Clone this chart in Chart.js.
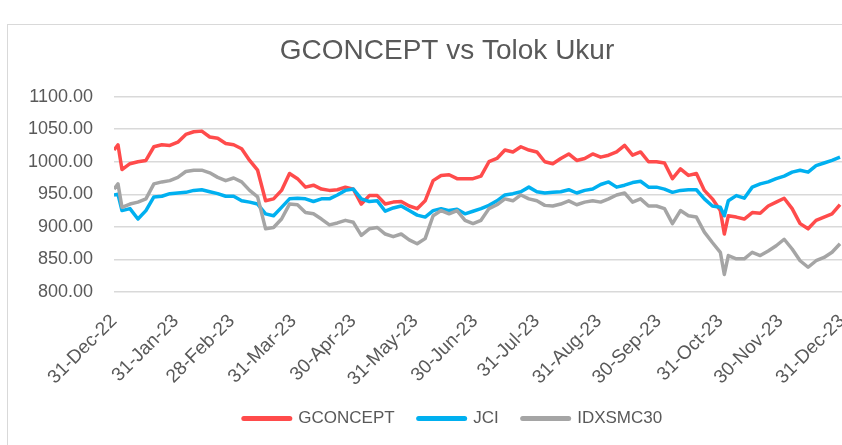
<!DOCTYPE html>
<html>
<head>
<meta charset="utf-8">
<script src="https://cdn.jsdelivr.net/npm/chart.js@4"></script>
<style>
html, body { margin: 0; padding: 0; background: #fff; overflow: hidden; }
#frame { position: absolute; left: 7px; top: 24px; width: 900px; height: 500px; border: 1px solid #d9d9d9; }
#wrap { position: absolute; left: 0; top: 0; width: 842px; height: 445px; }
</style>
</head>
<body>
<div id="frame"></div>
<div id="wrap"><canvas id="perfChart" width="842" height="445"></canvas></div>
<script>
// days counted from 31-Dec-22
const days = [0, 2, 4, 8, 12, 16, 20, 24, 28, 32, 36, 40, 44, 48, 52, 56, 60, 64, 68, 72, 76, 80, 84, 88, 92,
    96, 100, 104, 108, 112, 116, 120, 124, 128, 132, 136, 140, 144, 148, 152, 156, 160, 164, 168, 172, 176, 180, 184,
    188, 192, 196, 200, 204, 208, 212, 216, 220, 224, 228, 232, 236, 240, 244, 248, 252, 256, 260, 264, 268, 272, 276,
    280, 284, 288, 292, 296, 300, 304, 306, 308, 312, 316, 320, 324, 328, 332, 336, 340, 344, 348, 352, 356, 360, 364];

const gconcept = [1018, 1026, 988, 997, 1000, 1002, 1023, 1026, 1025, 1030, 1042, 1046, 1047, 1038, 1036, 1028, 1026, 1020, 1002, 987, 940, 943, 956, 982, 974,
    961, 964, 958, 956, 957, 961, 958, 935, 948, 948, 935, 938, 939, 932, 928, 940, 971, 979, 980, 974, 974, 974, 978,
    1000, 1005, 1018, 1015, 1023, 1018, 1015, 1000, 997, 1005, 1012, 1002, 1005, 1012, 1007, 1010, 1015, 1025, 1010, 1015, 1000, 1000, 998,
    974, 989, 979, 982, 956, 943, 925, 889, 917, 915, 912, 922, 921, 932, 938, 944, 928, 905, 897, 910, 915, 920, 934];

const jci = [949, 950, 925, 928, 912, 925, 946, 947, 951, 952, 953, 956, 957, 954, 951, 947, 947, 940, 938, 935, 920, 917, 930, 943, 944,
    943, 939, 943, 943, 949, 956, 958, 943, 939, 940, 924, 929, 932, 925, 918, 915, 925, 928, 925, 927, 920, 924, 928,
    933, 940, 949, 951, 954, 961, 954, 952, 953, 954, 957, 952, 956, 958, 965, 969, 961, 964, 968, 970, 961, 961, 958,
    953, 956, 957, 957, 943, 932, 930, 917, 940, 948, 944, 961, 966, 969, 974, 978, 984, 987, 984, 994, 998, 1002, 1007];

const idxsmc30 = [958, 966, 930, 935, 938, 943, 966, 969, 971, 976, 985, 987, 987, 983, 976, 971, 975, 969, 956, 946, 897, 899, 912, 935, 934,
    922, 920, 912, 903, 906, 910, 907, 887, 897, 899, 889, 885, 889, 880, 874, 882, 917, 925, 920, 925, 910, 905, 910,
    928, 934, 943, 940, 949, 943, 940, 933, 932, 935, 940, 934, 938, 940, 938, 943, 949, 952, 938, 943, 932, 932, 928,
    905, 925, 917, 915, 892, 876, 861, 827, 856, 851, 851, 861, 856, 863, 871, 881, 866, 848, 838, 848, 853, 861, 874];

const tickDays = [0, 31, 59, 90, 120, 151, 181, 212, 243, 273, 304, 334, 365];
const tickLabels = ['31-Dec-22', '31-Jan-23', '28-Feb-23', '31-Mar-23', '30-Apr-23', '31-May-23', '30-Jun-23',
    '31-Jul-23', '31-Aug-23', '30-Sep-23', '31-Oct-23', '30-Nov-23', '31-Dec-23'];

const textColor = '#595959';
const fontFamily = "'Liberation Sans', Arial, sans-serif";

const toPoints = (vals) => vals.map((v, i) => ({ x: days[i], y: v }));

// the original sheet is cropped on the right, so title and legend sit right of centre
const shiftBoxes = {
    id: 'shiftBoxes',
    afterLayout(chart) {
        chart.legend.left += 32;
        chart.legend.right += 32;
        chart.titleBlock.left += 26;
        chart.titleBlock.right += 26;
    }
};

const ctx = document.getElementById('perfChart').getContext('2d');

new Chart(ctx, {
    type: 'line',
    data: {
        datasets: [
            { label: 'GCONCEPT', data: toPoints(gconcept), borderColor: '#FF4B4B', backgroundColor: '#FF4B4B', order: 2 },
            { label: 'JCI', data: toPoints(jci), borderColor: '#00B0F0', backgroundColor: '#00B0F0', order: 1 },
            { label: 'IDXSMC30', data: toPoints(idxsmc30), borderColor: '#A5A5A5', backgroundColor: '#A5A5A5', order: 0 }
        ]
    },
    plugins: [shiftBoxes],
    options: {
        responsive: false,
        animation: false,
        layout: { padding: { left: 0, right: 0, top: 0, bottom: 8 } },
        elements: {
            line: { borderWidth: 3.5, tension: 0, borderJoinStyle: 'round' },
            point: { radius: 0 }
        },
        plugins: {
            title: {
                display: true,
                text: 'GCONCEPT vs Tolok Ukur',
                color: textColor,
                font: { family: fontFamily, size: 28, weight: 'normal' },
                padding: { top: 34, bottom: 29 }
            },
            legend: {
                position: 'bottom',
                labels: {
                    color: textColor,
                    font: { family: fontFamily, size: 17 },
                    usePointStyle: true,
                    pointStyle: 'line',
                    pointStyleWidth: 46,
                    padding: 24,
                    generateLabels: (chart) => {
                        const items = Chart.defaults.plugins.legend.labels.generateLabels(chart);
                        items.sort((a, b) => a.datasetIndex - b.datasetIndex);
                        return items.map(it => Object.assign(it, { lineWidth: 5, lineCap: 'round' }));
                    }
                }
            },
            tooltip: { enabled: false }
        },
        scales: {
            x: {
                type: 'linear',
                min: 0,
                max: 365,
                afterBuildTicks: (scale) => { scale.ticks = tickDays.map(v => ({ value: v })); },
                afterFit: (scale) => { scale.paddingLeft = 0; scale.paddingRight = 0; scale.height = 94; },
                grid: { display: false, drawTicks: false },
                border: { display: false },
                ticks: {
                    autoSkip: false,
                    minRotation: 45,
                    maxRotation: 45,
                    padding: 18,
                    color: textColor,
                    font: { family: fontFamily, size: 19 },
                    callback: (v) => {
                        const i = tickDays.indexOf(v);
                        return i >= 0 ? tickLabels[i] : '';
                    }
                }
            },
            y: {
                min: 800,
                max: 1100,
                afterFit: (scale) => { scale.width = 114; },
                grid: { color: '#D9D9D9', lineWidth: 1.5, drawTicks: false },
                border: { display: false },
                ticks: {
                    stepSize: 50,
                    padding: 21,
                    color: textColor,
                    font: { family: fontFamily, size: 18 },
                    callback: (v) => v.toFixed(2)
                }
            }
        }
    }
});
</script>
</body>
</html>
